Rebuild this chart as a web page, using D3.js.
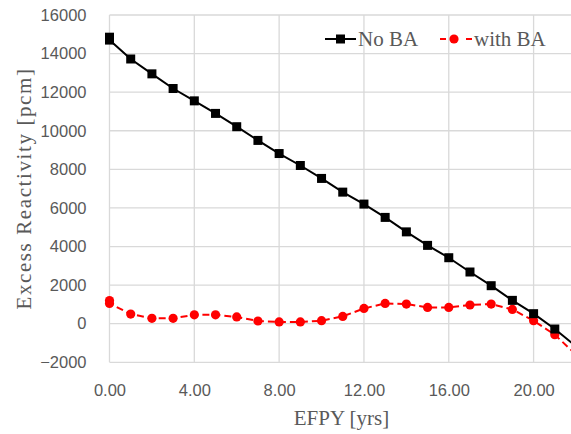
<!DOCTYPE html>
<html>
<head>
<meta charset="utf-8">
<script src="https://cdn.jsdelivr.net/npm/d3@7/dist/d3.min.js"></script>
<style>
  html, body { margin: 0; padding: 0; background: #fff; }
  svg { display: block; }
</style>
</head>
<body>
<svg id="chart" width="571" height="434"></svg>
<script>
// Burnup points (effective full-power years); the start point is listed twice
const efpy = [0, 0, 1, 2, 3, 4, 5, 6, 7, 8, 9, 10, 11, 12, 13, 14, 15, 16, 17, 18, 19, 20, 21, 22];
// Excess reactivity [pcm] without burnable absorber
const noBA = [14850, 14700, 13720, 12950, 12190, 11550, 10900, 10210, 9500, 8820, 8200, 7530, 6820, 6200,
              5510, 4760, 4060, 3420, 2680, 1970, 1210, 520, -275, -1170];
// Excess reactivity [pcm] with burnable absorber
const withBA = [1200, 1050, 500, 280, 280, 460, 460, 350, 140, 90, 90, 155, 380, 790,
                1050, 1020, 845, 845, 970, 1020, 740, 155, -570, -1600];
const xTicks = [0, 4, 8, 12, 16, 20];
const yTicks = [-2000, 0, 2000, 4000, 6000, 8000, 10000, 12000, 14000, 16000];

const svg = d3.select("#chart");
const plotLeft = 109.5, plotRight = 576, plotTop = 15, plotBottom = 362.3;

const x = d3.scaleLinear().domain([0, 22]).range([plotLeft, plotRight]);
const y = d3.scaleLinear().domain([-2000, 16000]).range([plotBottom, plotTop]);

const grid = "#d9d9d9";
const textGrey = "#595959";
const serif = "'Liberation Serif', 'Times New Roman', serif";

// gridlines
svg.append("g").selectAll("line").data(yTicks).join("line")
  .attr("x1", plotLeft).attr("x2", plotRight)
  .attr("y1", d => y(d)).attr("y2", d => y(d))
  .attr("stroke", grid).attr("stroke-width", 1.3);
svg.append("g").selectAll("line").data(xTicks).join("line")
  .attr("x1", d => x(d)).attr("x2", d => x(d))
  .attr("y1", plotTop).attr("y2", plotBottom)
  .attr("stroke", grid).attr("stroke-width", 1.3);

// axes (tick labels only)
const yAxis = d3.axisLeft(y).tickValues(yTicks).tickFormat(d3.format("d")).tickSize(0).tickPadding(23);
const gy = svg.append("g").attr("transform", `translate(${plotLeft},0)`).call(yAxis);
const xAxis = d3.axisBottom(x).tickValues(xTicks).tickFormat(d3.format(".2f")).tickSize(0).tickPadding(21.5);
const gx = svg.append("g").attr("transform", `translate(0,${plotBottom})`).call(xAxis);
[gx, gy].forEach(g => {
  g.select(".domain").remove();
  g.selectAll("text").attr("fill", textGrey)
    .style("font-family", "'Liberation Sans', Arial, sans-serif").style("font-size", "16.5px");
});

// axis titles
svg.append("text").attr("x", 341.5).attr("y", 425).attr("text-anchor", "middle")
  .attr("fill", textGrey).style("font-family", serif)
  .style("font-size", "21px").text("EFPY [yrs]");
svg.append("text").attr("transform", "translate(31,188.5) rotate(-90)").attr("text-anchor", "middle")
  .attr("fill", textGrey).style("font-family", serif)
  .style("font-size", "21px").style("letter-spacing", "1.6px").text("Excess Reactivity [pcm]");

const line = d3.line().x(d => x(d[0])).y(d => y(d[1]));
const noBAPts = efpy.map((e, i) => [e, noBA[i]]);
const withBAPts = efpy.map((e, i) => [e, withBA[i]]);

const plot = svg.append("g");

// with BA series
plot.append("path").datum(withBAPts).attr("d", line)
  .attr("fill", "none").attr("stroke", "#ff0000").attr("stroke-width", 2)
  .attr("stroke-dasharray", "7,4");
plot.append("g").selectAll("circle").data(withBAPts).join("circle")
  .attr("cx", d => x(d[0])).attr("cy", d => y(d[1])).attr("r", 4.6)
  .attr("fill", "#ff0000");

// No BA series
plot.append("path").datum(noBAPts).attr("d", line)
  .attr("fill", "none").attr("stroke", "#000").attr("stroke-width", 2);
const sq = 9;
plot.append("g").selectAll("rect").data(noBAPts).join("rect")
  .attr("x", d => x(d[0]) - sq / 2).attr("y", d => y(d[1]) - sq / 2)
  .attr("width", sq).attr("height", sq).attr("fill", "#000");

// legend
const lg = svg.append("g");
lg.append("line").attr("x1", 325).attr("x2", 356).attr("y1", 39).attr("y2", 39)
  .attr("stroke", "#000").attr("stroke-width", 2);
lg.append("rect").attr("x", 340.5 - sq / 2).attr("y", 39 - sq / 2).attr("width", sq).attr("height", sq).attr("fill", "#000");
lg.append("text").attr("x", 358).attr("y", 46).attr("fill", textGrey)
  .style("font-family", serif).style("font-size", "21px").text("No BA");
lg.append("line").attr("x1", 440).attr("x2", 446).attr("y1", 39).attr("y2", 39)
  .attr("stroke", "#ff0000").attr("stroke-width", 2);
lg.append("line").attr("x1", 466).attr("x2", 472).attr("y1", 39).attr("y2", 39)
  .attr("stroke", "#ff0000").attr("stroke-width", 2);
lg.append("circle").attr("cx", 454).attr("cy", 39).attr("r", 4.6).attr("fill", "#ff0000");
lg.append("text").attr("x", 474).attr("y", 46).attr("fill", textGrey)
  .style("font-family", serif).style("font-size", "21px").text("with BA");
</script>
</body>
</html>
